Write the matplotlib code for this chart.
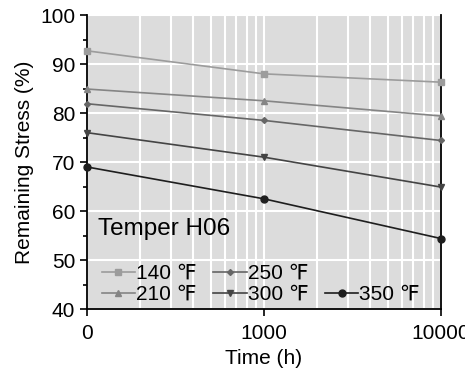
import matplotlib.pyplot as plt
import matplotlib.ticker as mticker
from matplotlib.lines import Line2D
import numpy as np

plt.rcParams['font.family'] = ['Liberation Sans', 'DejaVu Sans']

# time 0 is drawn at the 100 h position of the log axis
times = [100, 1000, 10000]
time_labels = ['0', '1000', '10000']

labels = ['140 \u2109', '210 \u2109', '250 \u2109', '300 \u2109', '350 \u2109']
stress_140 = [92.7, 88.0, 86.3]
stress_210 = [84.9, 82.5, 79.4]
stress_250 = [81.9, 78.5, 74.4]
stress_300 = [76.0, 71.0, 64.9]
stress_350 = [69.0, 62.5, 54.4]

series = [stress_140, stress_210, stress_250, stress_300, stress_350]
colors = ['#9c9c9c', '#858585', '#666666', '#444444', '#1e1e1e']
markers = ['s', '^', 'D', 'v', 'o']
msizes = [5, 5, 3, 5, 5]

fig = plt.figure(figsize=(4.65, 3.76), dpi=100)
ax = fig.add_axes([0.187, 0.178, 0.761, 0.782])
ax.set_facecolor('#dcdcdc')

handles = []
for y, lab, c, m, ms in zip(series, labels, colors, markers, msizes):
    h, = ax.plot(times, y, color=c, marker=m, markersize=ms, linewidth=1.2,
                 label=lab, clip_on=False, zorder=3)
    handles.append(h)

ax.set_xscale('log')
ax.set_xlim(100, 10000)
ax.set_ylim(40, 100)
ax.set_xticks(times)
ax.set_xticklabels(time_labels)
ax.xaxis.set_minor_locator(mticker.LogLocator(base=10, subs=np.arange(2, 10)))
ax.xaxis.set_minor_formatter(mticker.NullFormatter())
ax.yaxis.set_major_locator(mticker.MultipleLocator(10))
ax.yaxis.set_minor_locator(mticker.MultipleLocator(5))

ax.grid(True, which='major', axis='both', color='white', linewidth=1.5)
ax.grid(True, which='minor', axis='x', color='white', linewidth=1.5)
ax.set_axisbelow(True)

ax.spines['top'].set_visible(False)
for s in ['left', 'bottom', 'right']:
    ax.spines[s].set_linewidth(1.3)
ax.tick_params(which='both', direction='out', labelsize=15, width=1.2)
ax.tick_params(which='major', length=5)
ax.tick_params(which='minor', length=3)
ax.tick_params(axis='x', which='minor', length=0)
ax.tick_params(axis='x', pad=6)

ax.set_xlabel('Time (h)', fontsize=15)
ax.set_ylabel('Remaining Stress (%)', fontsize=15)

ax.text(0.03, 0.272, 'Temper H06', transform=ax.transAxes, fontsize=17.5,
        va='center', ha='left')

# blank entry so 350 F lands in the second row of the third column
blank = Line2D([], [], linestyle='none', marker='none')
leg_handles = handles[:4] + [blank, handles[4]]
leg_labels = labels[:4] + [''] + [labels[4]]
ax.legend(leg_handles, leg_labels, loc='lower left', bbox_to_anchor=(0.0, -0.032),
          ncol=3, frameon=False, fontsize=15, handlelength=1.6,
          handletextpad=0.05, columnspacing=0.8, labelspacing=0.1,
          borderaxespad=0.3)

fig.savefig('out.png', dpi=100)
